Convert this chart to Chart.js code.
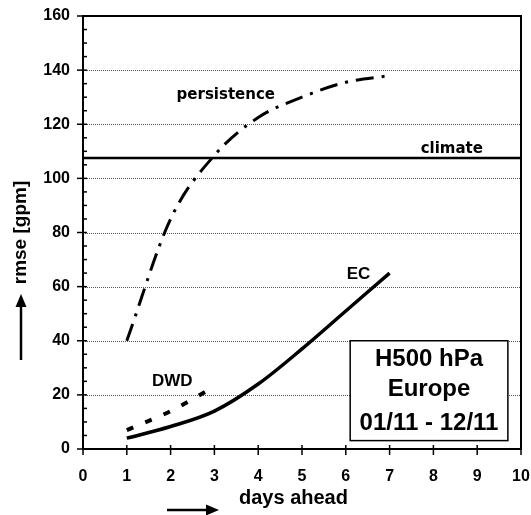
<!DOCTYPE html>
<html>
<head>
<meta charset="utf-8">
<script src="https://cdn.jsdelivr.net/npm/chart.js@4/dist/chart.umd.min.js"></script>
<style>
  body { margin: 0; background: #fff; }
  canvas { display: block; }
</style>
</head>
<body>
<canvas id="myChart" width="531" height="515"></canvas>
<script>
// values
var days = [1, 2, 3, 4, 5, 6, 7];
var dwdDays = [1, 2, 3];
var persistence = [40, 85, 108.5, 122.5, 130, 135.5, 138];
var ec = [4, 8.3, 14, 24, 37, 51, 65];
var dwd = [7, 14, 23];
var climate = 107.5;
var xTicks = [0, 1, 2, 3, 4, 5, 6, 7, 8, 9, 10];
var yTicks = [0, 20, 40, 60, 80, 100, 120, 140, 160];
var boxLines = ['H500 hPa', 'Europe', '01/11 - 12/11'];

function pts(xs, ys) {
  return xs.map(function (x, i) { return { x: x, y: ys[i] }; });
}

var ARIAL = "'Liberation Sans', Arial, sans-serif";

// keep the plot area where the picture has it, labels may overhang
function noPad(s) {
  s.paddingLeft = 0; s.paddingRight = 0; s.paddingTop = 0; s.paddingBottom = 0;
}

var decor = {
  id: 'decor',
  beforeDatasetsDraw: function (chart) {
    var c = chart.ctx, a = chart.chartArea;
    var ys = chart.scales.y;
    c.save();
    // dotted grid
    c.strokeStyle = '#555';
    c.lineWidth = 1;
    c.setLineDash([1, 1]);
    yTicks.forEach(function (v) {
      if (v == 0 || v == 160) return;
      var y = Math.round(ys.getPixelForValue(v)) + 0.5;
      c.beginPath(); c.moveTo(a.left, y); c.lineTo(a.right, y); c.stroke();
    });
    c.setLineDash([]);
    c.restore();
  },
  afterDraw: function (chart) {
    var c = chart.ctx, a = chart.chartArea;
    var xs = chart.scales.x, ys = chart.scales.y;
    function px(v) { return xs.getPixelForValue(v); }
    function py(v) { return ys.getPixelForValue(v); }
    c.save();
    c.strokeStyle = '#000';
    c.fillStyle = '#000';

    // frame
    c.lineWidth = 2;
    c.strokeRect(a.left, a.top, a.right - a.left, a.bottom - a.top);

    // y ticks
    c.lineWidth = 1.5;
    for (var v = 0; v <= 160; v += 5) {
      var y = py(v);
      c.beginPath();
      if (v % 20 == 0) { c.moveTo(a.left - 6, y); } else { c.moveTo(a.left, y); }
      c.lineTo(a.left + 4, y);
      c.stroke();
    }
    // x ticks
    xTicks.forEach(function (t) {
      var x = px(t);
      c.beginPath(); c.moveTo(x, a.bottom - 4); c.lineTo(x, a.bottom + 6); c.stroke();
    });

    // series labels
    c.textAlign = 'center';
    c.textBaseline = 'alphabetic';
    c.font = "bold 15px 'DejaVu Sans', sans-serif";
    c.fillText('persistence', px(3.26), py(129.4));
    c.fillText('climate', px(8.42), py(109.5));
    c.font = 'bold 17px ' + ARIAL;
    c.fillText('EC', px(6.29), py(62.9));
    c.fillText('DWD', px(2.04), py(23.4));

    // info box
    var bl = px(6.1), br = px(9.7), bt = py(40), bb = py(3.1);
    c.fillStyle = '#fff';
    c.fillRect(bl, bt, br - bl, bb - bt);
    c.lineWidth = 1.5;
    c.strokeRect(bl, bt, br - bl, bb - bt);
    c.fillStyle = '#000';
    c.font = 'bold 24px ' + ARIAL;
    var bx = (bl + br) / 2;
    c.fillText(boxLines[0], bx, 366);
    c.fillText(boxLines[1], bx, 396);
    c.fillText(boxLines[2], bx, 430);

    // x axis title + arrow
    c.font = 'bold 20px ' + ARIAL;
    c.textAlign = 'left';
    c.fillText('days ahead', 239, 504);
    c.lineWidth = 2.5;
    c.beginPath(); c.moveTo(167, 510); c.lineTo(208, 510); c.stroke();
    c.beginPath(); c.moveTo(219, 510); c.lineTo(206, 504.5); c.lineTo(206, 515.5); c.closePath(); c.fill();

    // y axis title + arrow
    c.save();
    c.translate(26, 232.5);
    c.rotate(-Math.PI / 2);
    c.textAlign = 'center';
    c.font = 'bold 19px ' + ARIAL;
    c.fillText('rmse [gpm]', 0, 0);
    c.restore();
    c.beginPath(); c.moveTo(21, 360); c.lineTo(21, 305); c.stroke();
    c.beginPath(); c.moveTo(21, 294); c.lineTo(15.5, 307); c.lineTo(26.5, 307); c.closePath(); c.fill();

    c.restore();
  }
};

var ctx = document.getElementById('myChart');
var myChart = new Chart(ctx, {
  type: 'line',
  data: {
    datasets: [{
      data: pts([0, 10], [climate, climate]),
      borderColor: '#000',
      borderWidth: 2.5,
      pointRadius: 0
    }, {
      data: pts(days, persistence),
      borderColor: '#000',
      borderWidth: 3,
      borderDash: [18, 8, 3, 8],
      cubicInterpolationMode: 'monotone',
      pointRadius: 0
    }, {
      data: pts(days, ec),
      borderColor: '#000',
      borderWidth: 3.5,
      cubicInterpolationMode: 'monotone',
      pointRadius: 0
    }, {
      data: pts(dwdDays, dwd),
      borderColor: '#000',
      borderWidth: 4,
      borderDash: [7, 13],
      borderCapStyle: 'butt',
      cubicInterpolationMode: 'monotone',
      pointRadius: 0
    }]
  },
  options: {
    responsive: false,
    animation: false,
    devicePixelRatio: 1,
    layout: { padding: { top: 16, right: 10, left: 0, bottom: 0 } },
    plugins: { legend: { display: false }, tooltip: { enabled: false } },
    scales: {
      x: {
        type: 'linear',
        min: 0, max: 10,
        afterFit: function (s) { s.height = 66; noPad(s); },
        grid: { display: false, drawTicks: false },
        border: { display: false },
        ticks: {
          stepSize: 1, autoSkip: false, maxRotation: 0, padding: 18,
          color: '#000', font: { family: ARIAL, size: 16, weight: 'bold' }
        }
      },
      y: {
        min: 0, max: 160,
        afterFit: function (s) { s.width = 83; noPad(s); },
        grid: { display: false, drawTicks: false },
        border: { display: false },
        ticks: {
          stepSize: 20, padding: 13,
          color: '#000', font: { family: ARIAL, size: 16, weight: 'bold' }
        }
      }
    }
  },
  plugins: [decor]
});
</script>
</body>
</html>
